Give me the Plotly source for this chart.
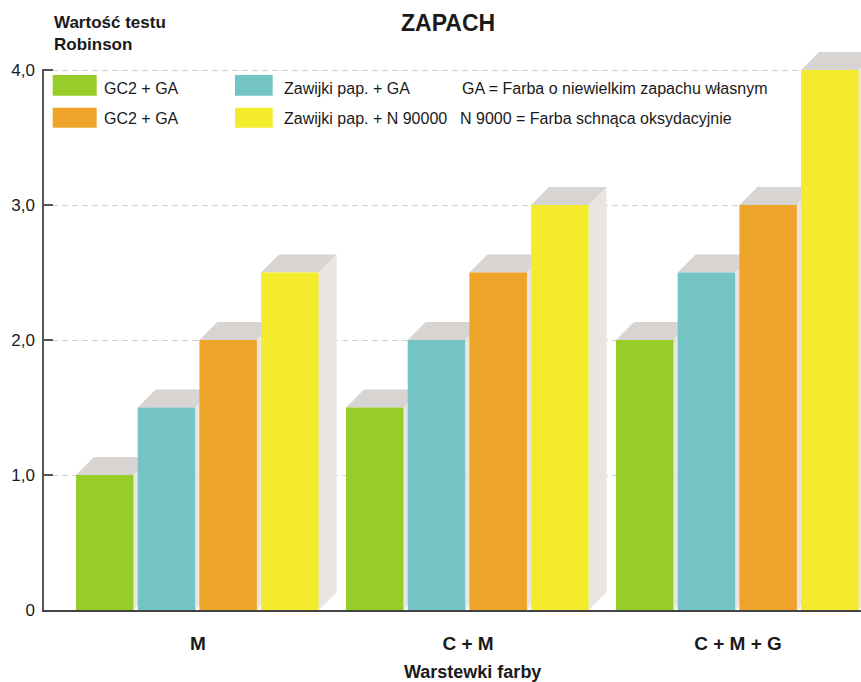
import plotly.graph_objects as go

# ---- data -------------------------------------------------------------
categories = ["M", "C + M", "C + M + G"]
series_names = ["GC2 + GA", "Zawijki pap. + GA", "GC2 + GA", "Zawijki pap. + N 90000"]
gc2_ga_green = [1.0, 1.5, 2.0]
zawijki_ga = [1.5, 2.0, 2.5]
gc2_ga_orange = [2.0, 2.5, 3.0]
zawijki_n90000 = [2.5, 3.0, 4.0]
series_values = [gc2_ga_green, zawijki_ga, gc2_ga_orange, zawijki_n90000]
notes = ["GA = Farba o niewielkim zapachu własnym",
         "N 9000 = Farba schnąca oksydacyjnie"]
y_tick_values = [0, 1, 2, 3, 4]
y_tick_labels = ["0", "1,0", "2,0", "3,0", "4,0"]

# ---- style ------------------------------------------------------------
colors = ["#97cd29", "#74c4c6", "#eea428", "#f4eb2d"]
TOP_FACE = "#d8d4d1"
SIDE_FACE = "#e8e5e3"
FONT = "Liberation Sans, Arial, sans-serif"
INK = "#1a1a1a"

W, H = 861, 682
ML, MR, MT, MB = 42, 0, 40, 72
PW, PH = W - ML - MR, H - MT - MB

# axis scaling: one category group = 270 px, one y unit = 135 px
PX_GROUP = 270.0
PX_UNIT = 135.0
GROUP0_PX = 198.0
x_range = [(ML - GROUP0_PX) / PX_GROUP, (W - MR - GROUP0_PX) / PX_GROUP]
y_range = [0, PH / PX_UNIT]

BAR_W = 57.5 / PX_GROUP
PITCH = 61.7 / PX_GROUP
FIRST = (76 - GROUP0_PX) / PX_GROUP
DX = 18 / PX_GROUP      # depth of the 3D faces
DY = 18 / PX_UNIT


def px_x(px):
    return (px - ML) / PW


def px_y(py):
    return (H - MB - py) / PH


fig = go.Figure()
shapes = []
xs = list(range(len(categories)))

for k, (vals, col) in enumerate(zip(series_values, colors)):
    off = FIRST + k * PITCH
    fig.add_trace(go.Bar(
        x=xs, y=vals, width=BAR_W, offset=off,
        marker=dict(color=col, line=dict(width=0)),
        name=series_names[k], showlegend=False,
    ))
    # top and side faces giving the bars depth
    for g, v in zip(xs, vals):
        x0 = g + off
        x1 = x0 + BAR_W
        shapes.append(dict(
            type="path", xref="x", yref="y", layer="between",
            path=f"M {x0},{v} L {x1},{v} L {x1 + DX},{v + DY} L {x0 + DX},{v + DY} Z",
            fillcolor=TOP_FACE, line=dict(width=0)))
        shapes.append(dict(
            type="path", xref="x", yref="y", layer="between",
            path=f"M {x1},0 L {x1},{v} L {x1 + DX},{v + DY} L {x1 + DX},{DY} Z",
            fillcolor=SIDE_FACE, line=dict(width=0)))

# vertical axis line, ending at the top tick
shapes.append(dict(type="line", xref="x", yref="y",
                   x0=x_range[0] + 1 / PX_GROUP, x1=x_range[0] + 1 / PX_GROUP,
                   y0=0, y1=y_tick_values[-1],
                   line=dict(color="#555555", width=2), layer="above"))

# legend swatches
swatches = [
    (52.7, 96.7, 75.0, 95.7, colors[0]),
    (235.0, 272.7, 75.0, 95.7, colors[1]),
    (52.7, 96.7, 107.7, 127.7, colors[2]),
    (235.0, 272.7, 107.7, 127.7, colors[3]),
]
for xa, xb, ya, yb, col in swatches:
    shapes.append(dict(type="rect", xref="paper", yref="paper",
                       x0=px_x(xa), x1=px_x(xb), y0=px_y(yb), y1=px_y(ya),
                       fillcolor=col, line=dict(width=0)))

annotations = []


def label(text, px, py, size, bold=False, anchor="left"):
    annotations.append(dict(
        text=text, xref="paper", yref="paper", x=px_x(px), y=px_y(py),
        xanchor=anchor, yanchor="middle", showarrow=False, align="left",
        font=dict(family=FONT, size=size, color=INK,
                  weight="bold" if bold else "normal")))


label(series_names[0], 101.5, 88.0, 16)
label(series_names[1], 281.5, 88.0, 16)
label(series_names[2], 101.5, 119.0, 16)
label(series_names[3], 281.5, 119.0, 16)
label(notes[0], 459.5, 88.0, 16)
label(notes[1], 457.5, 119.0, 16)

label("ZAPACH", 447.5, 23.0, 23, bold=True, anchor="center")
label("Wartość testu<br>Robinson", 52.0, 33.5, 17, bold=True)
label("Warstewki farby", 472.0, 672.0, 18, bold=True, anchor="center")

fig.update_layout(
    width=W, height=H,
    margin=dict(l=ML, r=MR, t=MT, b=MB, pad=0),
    paper_bgcolor="white", plot_bgcolor="white",
    barmode="overlay",
    showlegend=False,
    shapes=shapes,
    annotations=annotations,
    font=dict(family=FONT, color=INK),
    xaxis=dict(
        range=x_range, tickmode="array", tickvals=xs, ticktext=categories,
        showgrid=False, zeroline=False, showline=True,
        linecolor="#444444", linewidth=2, ticks="",
        tickfont=dict(family=FONT, size=19, color=INK, weight="bold"),
        ticklabelstandoff=15, automargin=False, fixedrange=True,
    ),
    yaxis=dict(
        range=y_range, tickmode="array", tickvals=y_tick_values,
        ticktext=y_tick_labels, showgrid=True, gridcolor="#d2d2d2",
        griddash="6px,4px", gridwidth=1, zeroline=False, showline=False,
        ticks="inside", ticklen=11, tickwidth=2, tickcolor="#555555",
        tickfont=dict(family=FONT, size=17, color=INK),
        ticklabelstandoff=6, automargin=False, fixedrange=True,
    ),
)

fig.write_html("out.html", config={"displayModeBar": False})
